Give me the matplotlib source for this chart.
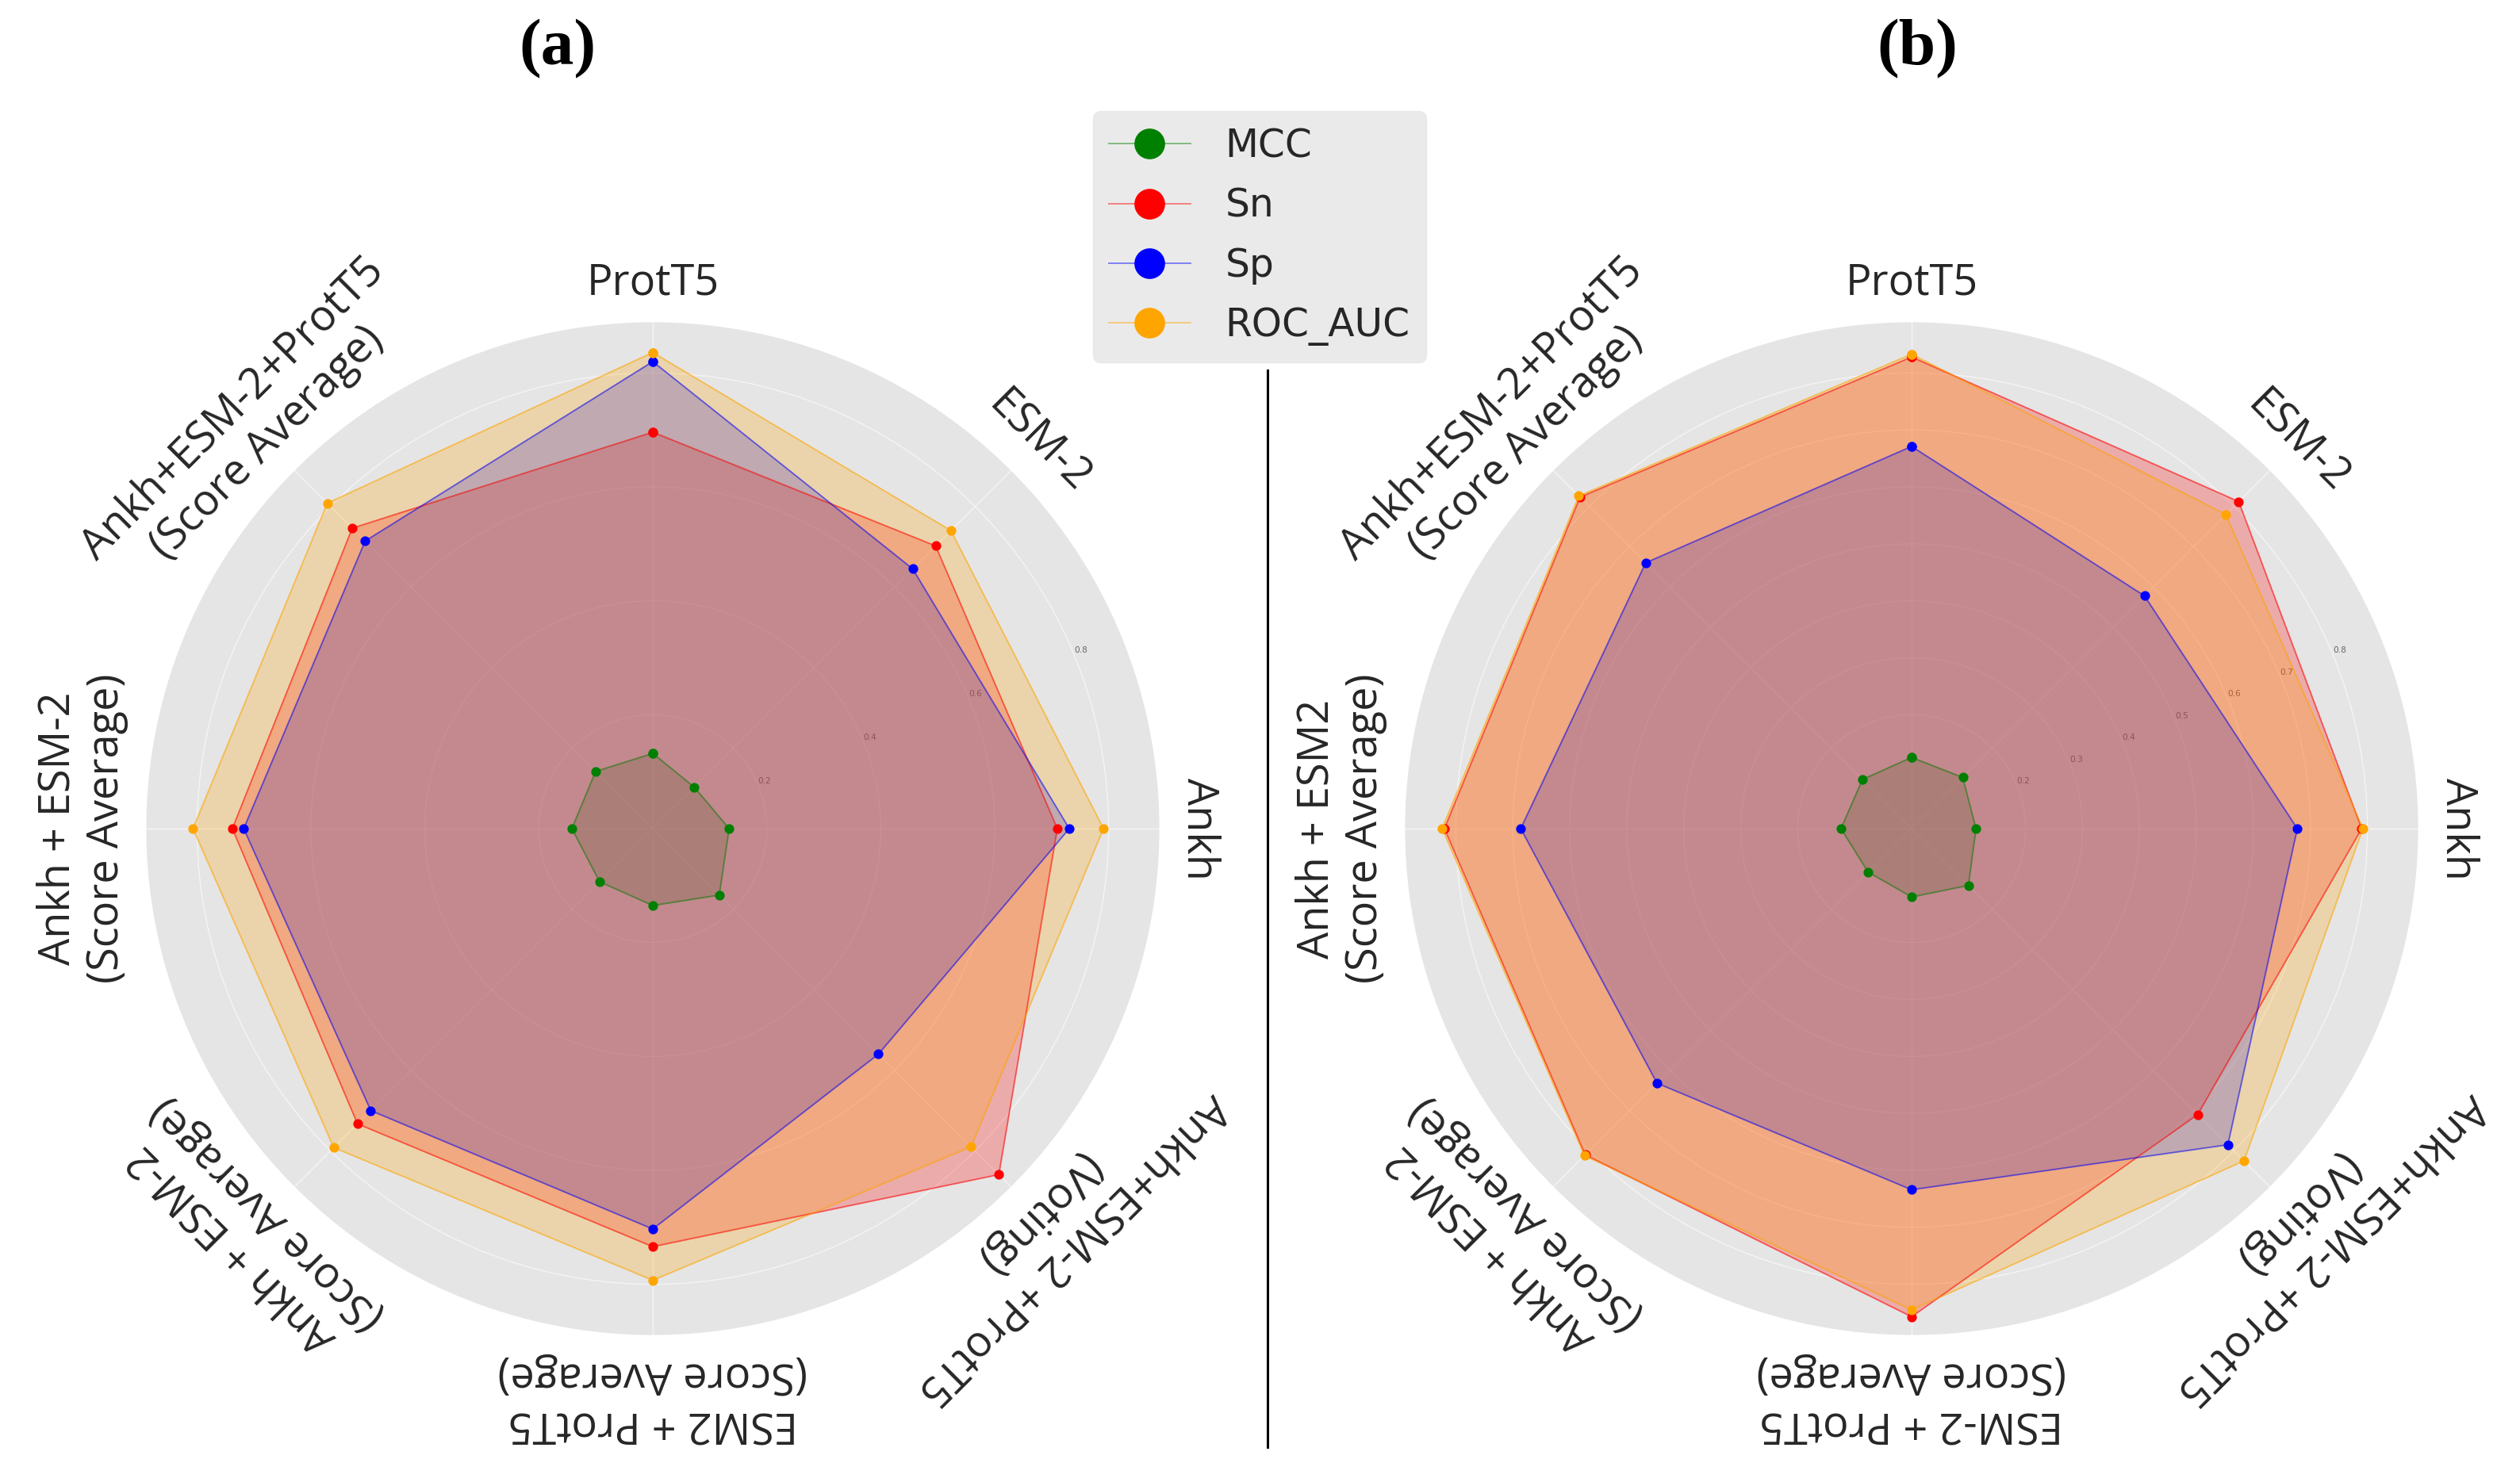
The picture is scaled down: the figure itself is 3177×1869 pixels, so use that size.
import numpy as np
import matplotlib
matplotlib.use('Agg')
import matplotlib.pyplot as plt
from matplotlib.lines import Line2D
from matplotlib.colors import to_rgba

plt.style.use('ggplot')

metrics = ['MCC', 'Sn', 'Sp', 'ROC_AUC']
colors = ['green', 'red', 'blue', 'orange']

labels_a = ['ProtT5', 'ESM-2', 'Ankh',
            'Ankh+ESM-2 +ProtT5\n(Voting)',
            'ESM2 + ProtT5\n(Score Average)',
            'Ankh + ESM-2\n(Score Average)',
            'Ankh + ESM-2\n(Score Average)',
            'Ankh+ESM-2+ProtT5\n(Score Average)']
labels_b = ['ProtT5', 'ESM-2', 'Ankh',
            'Ankh+ESM-2 +ProtT5\n(Voting)',
            'ESM-2 + ProtT5\n(Score Average)',
            'Ankh + ESM-2\n(Score Average)',
            'Ankh + ESM2\n(Score Average)',
            'Ankh+ESM-2+ProtT5\n(Score Average)']

# panel (a)
mcc_a = [0.132, 0.103, 0.134, 0.165, 0.135, 0.132, 0.142, 0.142]
sn_a = [0.696, 0.702, 0.710, 0.859, 0.734, 0.733, 0.738, 0.746]
sp_a = [0.820, 0.645, 0.731, 0.560, 0.703, 0.700, 0.718, 0.714]
roc_a = [0.836, 0.740, 0.791, 0.790, 0.793, 0.792, 0.807, 0.808]

# panel (b)
mcc_b = [0.125, 0.127, 0.113, 0.141, 0.120, 0.108, 0.124, 0.122]
sn_b = [0.828, 0.812, 0.790, 0.710, 0.857, 0.810, 0.820, 0.823]
sp_b = [0.671, 0.578, 0.677, 0.785, 0.634, 0.632, 0.686, 0.660]
roc_b = [0.833, 0.780, 0.792, 0.825, 0.845, 0.812, 0.824, 0.826]

rticks_a = [0.2, 0.4, 0.6, 0.8]
rticks_b = [0.2, 0.3, 0.4, 0.5, 0.6, 0.7, 0.8]
rmax = 0.891


def radar(ax, labels, series, rticks):
    n = len(labels)
    angles = np.linspace(0, 2 * np.pi, n, endpoint=False)
    ang = np.concatenate([angles, angles[:1]])
    ax.set_theta_offset(np.pi / 2)
    ax.set_theta_direction(-1)
    for vals, name, c in zip(series, metrics, colors):
        v = np.concatenate([vals, vals[:1]])
        ax.plot(ang, v, color=to_rgba(c, 0.45), lw=0.7, marker='o', ms=3.4,
                mfc=c, mec=c, label=name)
        ax.fill(ang, v, color=c, alpha=0.25)
    ax.set_ylim(0, rmax)
    ax.set_xticks(angles)
    ax.set_xticklabels([''] * n)
    ax.set_yticks(rticks)
    ax.set_yticklabels(['%.1f' % t for t in rticks], fontsize=3.8, color='#666666')
    ax.set_rlabel_position(67.5)
    ax.grid(color='white', lw=0.5, alpha=0.6)
    for a, lab in zip(angles, labels):
        deg = 90 - np.degrees(a)
        ax.text(a, 0.92, lab, rotation=deg - 90, rotation_mode='anchor',
                ha='center', va='bottom', fontsize=19.5, family='Open Sans',
                color='#262626', linespacing=1.15)


fig = plt.figure(figsize=(3177 / 200, 1869 / 200), dpi=200)
fig.patch.set_facecolor('white')

W, H = 3177, 1869
ax_a = fig.add_axes([183 / W, (H - 1685) / H, 1280 / W, 1280 / H], projection='polar')
ax_b = fig.add_axes([1770 / W, (H - 1685) / H, 1280 / W, 1280 / H], projection='polar')

radar(ax_a, labels_a, [mcc_a, sn_a, sp_a, roc_a], rticks_a)
radar(ax_b, labels_b, [mcc_b, sn_b, sp_b, roc_b], rticks_b)

fig.text(703 / W, 1 - 62 / H, '(a)', ha='center', va='center',
         fontsize=30, fontweight='bold', family='Liberation Serif')
fig.text(2417 / W, 1 - 62 / H, '(b)', ha='center', va='center',
         fontsize=30, fontweight='bold', family='Liberation Serif')

handles, names = ax_a.get_legend_handles_labels()
leg = fig.legend(handles, names, loc='upper left', bbox_to_anchor=(1378 / W, 1 - 140 / H),
                 borderaxespad=0, fontsize=17.5, markerscale=3.8, handlelength=2.1,
                 handletextpad=0.9, labelspacing=0.56, borderpad=0.42, frameon=True)
leg.get_frame().set_facecolor('#E5E5E5')
leg.get_frame().set_edgecolor('#E5E5E5')
for t in leg.get_texts():
    t.set_color('#262626')

fig.add_artist(Line2D([1598 / W, 1598 / W], [1 - 467 / H, 1 - 1825 / H],
                      color='black', lw=1.1, transform=fig.transFigure))

fig.savefig('out.png', dpi=200, facecolor='white')
